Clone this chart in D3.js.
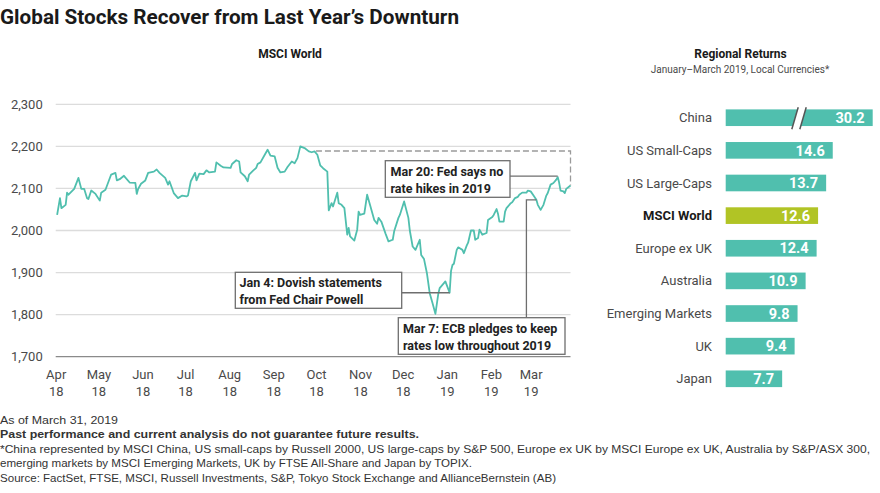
<!DOCTYPE html>
<html>
<head>
<meta charset="utf-8">
<script src="https://cdn.jsdelivr.net/npm/d3@7"></script>
<style>
  body { margin: 0; background: #fff; }
  svg { display: block; }
</style>
</head>
<body>
<svg id="chart" width="880" height="493"></svg>
<script>
// ---------- data ----------
const DATES = [
  "2018-04-02","2018-04-04","2018-04-05","2018-04-08","2018-04-09","2018-04-10","2018-04-14","2018-04-17",
  "2018-04-19","2018-04-21","2018-04-23","2018-04-24","2018-04-26","2018-04-29","2018-05-02","2018-05-03",
  "2018-05-06","2018-05-10","2018-05-13","2018-05-14","2018-05-16","2018-05-19","2018-05-23","2018-05-27",
  "2018-05-28","2018-05-29","2018-05-31","2018-06-03","2018-06-05","2018-06-09","2018-06-11","2018-06-13",
  "2018-06-17","2018-06-19","2018-06-20","2018-06-23","2018-06-26","2018-06-29","2018-07-02","2018-07-03",
  "2018-07-05","2018-07-08","2018-07-09","2018-07-11","2018-07-14","2018-07-16","2018-07-18","2018-07-22",
  "2018-07-23","2018-07-26","2018-07-28","2018-08-02","2018-08-03","2018-08-06","2018-08-08","2018-08-09",
  "2018-08-12","2018-08-14","2018-08-15","2018-08-18","2018-08-20","2018-08-21","2018-08-23","2018-08-26",
  "2018-08-28","2018-08-30","2018-09-02","2018-09-04","2018-09-06","2018-09-09","2018-09-11","2018-09-14",
  "2018-09-16","2018-09-18","2018-09-20","2018-09-23","2018-09-26","2018-09-28","2018-09-30","2018-10-02",
  "2018-10-04","2018-10-06","2018-10-09","2018-10-10","2018-10-12","2018-10-13","2018-10-16","2018-10-17",
  "2018-10-19","2018-10-21","2018-10-23","2018-10-24","2018-10-25","2018-10-28","2018-10-30","2018-10-31",
  "2018-11-01","2018-11-04","2018-11-06","2018-11-08","2018-11-11","2018-11-13","2018-11-14","2018-11-16",
  "2018-11-19","2018-11-21","2018-11-24","2018-11-25","2018-11-28","2018-11-29","2018-12-02","2018-12-05",
  "2018-12-06","2018-12-08","2018-12-10","2018-12-13","2018-12-14","2018-12-16","2018-12-18","2018-12-20",
  "2018-12-22","2018-12-24","2018-12-26","2018-12-27","2018-12-30","2018-12-31","2019-01-03","2019-01-04",
  "2019-01-05","2019-01-06","2019-01-08","2019-01-09","2019-01-12","2019-01-13","2019-01-15","2019-01-16",
  "2019-01-18","2019-01-20","2019-01-21","2019-01-23","2019-01-24","2019-01-26","2019-01-29","2019-01-30",
  "2019-02-02","2019-02-03","2019-02-05","2019-02-06","2019-02-07","2019-02-10","2019-02-11","2019-02-12",
  "2019-02-15","2019-02-16","2019-02-18","2019-02-20","2019-02-21","2019-02-23","2019-02-26","2019-02-27",
  "2019-03-01","2019-03-03","2019-03-05","2019-03-06","2019-03-08","2019-03-10","2019-03-12","2019-03-13",
  "2019-03-15","2019-03-17","2019-03-19","2019-03-20","2019-03-21","2019-03-22","2019-03-24","2019-03-25",
  "2019-03-26","2019-03-29"
];
const MSCI_VALUES = [
  2037,2077,2053,2061,2090,2085,2099,2125,
  2099,2099,2077,2075,2095,2087,2071,2090,
  2097,2133,2137,2119,2122,2130,2114,2113,
  2087,2099,2111,2119,2137,2140,2145,2137,
  2125,2109,2117,2089,2077,2083,2081,2083,
  2117,2137,2119,2135,2134,2143,2138,2140,
  2162,2154,2150,2149,2158,2167,2164,2138,
  2129,2117,2133,2143,2149,2158,2162,2180,
  2192,2178,2176,2149,2138,2140,2151,2164,
  2160,2172,2200,2196,2188,2186,2188,2180,
  2155,2148,2140,2048,2065,2057,2090,2065,
  2061,2053,1990,2006,1986,1976,2002,2045,
  2037,2040,2085,2061,2025,2016,2030,2021,
  1992,1974,1978,1998,2030,2037,2069,2030,
  2000,1962,1954,1978,1942,1932,1899,1851,
  1827,1802,1849,1863,1875,1879,1852,1904,
  1918,1921,1954,1960,1954,1946,1964,1971,
  2000,2000,1978,1982,2002,1990,1994,2025,
  2032,2037,2051,2040,2021,2021,2045,2053,
  2065,2067,2077,2080,2085,2090,2090,2095,
  2093,2083,2073,2061,2049,2061,2083,2089,
  2109,2113,2121,2127,2114,2095,2093,2089,
  2099,2107
];

const Y_TICKS = [1700, 1800, 1900, 2000, 2100, 2200, 2300];
const MONTH_TICKS = ["2018-04-01","2018-05-01","2018-06-01","2018-07-01","2018-08-01","2018-09-01",
                     "2018-10-01","2018-11-01","2018-12-01","2019-01-01","2019-02-01","2019-03-01"];
const MONTH_LABELS = ["Apr","May","Jun","Jul","Aug","Sep","Oct","Nov","Dec","Jan","Feb","Mar"];
const YEAR_LABELS = ["18","18","18","18","18","18","18","18","18","19","19","19"];

// level carried over from early October, dashed to the last close
const OCT_LEVEL = 2189;
const OCT_LEVEL_DATE = "2018-10-01";

const REGIONS = ["China","US Small-Caps","US Large-Caps","MSCI World","Europe ex UK",
                 "Australia","Emerging Markets","UK","Japan"];
const RETURNS = [30.2, 14.6, 13.7, 12.6, 12.4, 10.9, 9.8, 9.4, 7.7];
const BAR_CAP = 20.05;     // China bar is cut (axis break)
const BREAK_AT = 10;

const NOTES = [
  { lines: ["Mar 20: Fed says no", "rate hikes in 2019"], anchor: "2019-03-20" },
  { lines: ["Jan 4: Dovish statements", "from Fed Chair Powell"], anchor: "2019-01-03" },
  { lines: ["Mar 7: ECB pledges to keep", "rates low throughout 2019"], anchor: "2019-03-05", elbow: "2019-02-26" },
];

const FOOTER = [
  { text: "As of March 31, 2019", bold: false, w: 118 },
  { text: "Past performance and current analysis do not guarantee future results.", bold: true, w: 419 },
  { text: "*China represented by MSCI China, US small-caps by Russell 2000, US large-caps by S&P 500, Europe ex UK by MSCI Europe ex UK, Australia by S&P/ASX 300,", bold: false, w: 870 },
  { text: "emerging markets by MSCI Emerging Markets, UK by FTSE All-Share and Japan by TOPIX.", bold: false, w: 472 },
  { text: "Source: FactSet, FTSE, MSCI, Russell Investments, S&P, Tokyo Stock Exchange and AllianceBernstein (AB)", bold: false, w: 556 },
];

// ---------- styles ----------
const TEAL = "#50bfae";
const LIME = "#b1c425";
const TEXT = "#4a4a4a";
const FONT = "Roboto, 'Noto Sans', sans-serif";
const FOOT_FONT = "'Liberation Sans', Arial, sans-serif";

const svg = d3.select("#chart");
const parse = d3.timeParse("%Y-%m-%d");
const series = DATES.map((d, i) => ({ date: parse(d), value: MSCI_VALUES[i] }));
const valueAt = (s) => series.find((d) => +d.date === +parse(s)).value;

svg.append("rect").attr("width", 880).attr("height", 493).attr("fill", "#fff");

// ---------- title ----------
svg.append("text")
  .attr("x", 0).attr("y", 24)
  .attr("font-family", FONT).attr("font-weight", 700).attr("font-size", 20)
  .attr("fill", "#1a1a1a")
  .attr("textLength", 459).attr("lengthAdjust", "spacingAndGlyphs")
  .text("Global Stocks Recover from Last Year\u2019s Downturn");

// ---------- line chart ----------
const x = d3.scaleTime()
  .domain([parse("2018-04-01"), parse("2019-03-29")])
  .range([55.7, 570.5]);

const y = d3.scaleLinear()
  .domain([1700, 2300])
  .range([356.7, 104.3]);

svg.append("text")
  .attr("x", 290).attr("y", 58)
  .attr("text-anchor", "middle")
  .attr("font-family", FONT).attr("font-weight", 700).attr("font-size", 12)
  .attr("fill", "#1a1a1a")
  .text("MSCI World");

// gridlines
svg.append("g")
  .selectAll("line")
  .data(Y_TICKS)
  .join("line")
  .attr("x1", x.range()[0]).attr("x2", x.range()[1])
  .attr("y1", (d) => y(d)).attr("y2", (d) => y(d))
  .attr("stroke", (d) => (d === 1700 ? "#8a8a8a" : "#dcdcdc"))
  .attr("stroke-width", 1.3);

// y labels
svg.append("g")
  .attr("transform", `translate(${x.range()[0]},0)`)
  .call(d3.axisLeft(y).tickValues(Y_TICKS).tickSize(0).tickPadding(13).tickFormat(d3.format(",")))
  .call((g) => g.select(".domain").remove())
  .call((g) => g.selectAll("text")
    .attr("font-family", FONT).attr("font-size", 13).attr("fill", TEXT));

// x labels (two rows)
const monthDates = MONTH_TICKS.map(parse);
svg.append("g")
  .attr("transform", `translate(0,${y(1700)})`)
  .call(d3.axisBottom(x).tickValues(monthDates).tickSize(0).tickPadding(18).tickFormat(() => ""))
  .call((g) => g.select(".domain").remove())
  .call((g) => g.selectAll(".tick text").each(function (d, i) {
    const t = d3.select(this)
      .attr("font-family", FONT).attr("font-size", 13).attr("fill", TEXT);
    t.append("tspan").attr("x", 0).attr("dy", "0.35em").text(MONTH_LABELS[i]);
    t.append("tspan").attr("x", 0).attr("dy", 16.6).text(YEAR_LABELS[i]);
  }));

// dashed reference from October level to last value
const last = series[series.length - 1];
svg.append("path")
  .attr("d", d3.line()([
    [x(parse(OCT_LEVEL_DATE)), y(OCT_LEVEL)],
    [x(last.date), y(OCT_LEVEL)],
    [x(last.date), y(last.value)],
  ]))
  .attr("fill", "none")
  .attr("stroke", "#9a9a9a")
  .attr("stroke-width", 1.3)
  .attr("stroke-dasharray", "6,3");

// series
svg.append("path")
  .datum(series)
  .attr("d", d3.line().x((d) => x(d.date)).y((d) => y(d.value)))
  .attr("fill", "none")
  .attr("stroke", TEAL)
  .attr("stroke-width", 1.8)
  .attr("stroke-linejoin", "round");

// ---------- annotations ----------
const BOXES = [
  { x: 385.3, y: 160.7, w: 124.7, h: 36.6, tx: 390.5 },
  { x: 235.3, y: 272.3, w: 166.4, h: 36.0, tx: 239.5 },
  { x: 398.3, y: 317.7, w: 166.7, h: 36.6, tx: 403 },
];
const connG = svg.append("g").attr("fill", "none").attr("stroke", "#6e6e6e").attr("stroke-width", 1.3);

// Mar 20: right edge -> peak
{
  const n = NOTES[0], b = BOXES[0];
  const ax = x(parse(n.anchor)), ay = y(valueAt(n.anchor)) - 1;
  connG.append("path").attr("d", d3.line()([[b.x + b.w, ay], [ax, ay]]));
}
// Jan 4: right edge -> trough
{
  const n = NOTES[1], b = BOXES[1];
  const ax = x(parse(n.anchor)), ay = y(valueAt(n.anchor));
  connG.append("path").attr("d", d3.line()([[b.x + b.w, ay], [ax, ay]]));
}
// Mar 7: top edge -> up -> right
{
  const n = NOTES[2], b = BOXES[2];
  const ex = x(parse(n.elbow));
  const ax = x(parse(n.anchor)), ay = y(valueAt(n.anchor));
  connG.append("path").attr("d", d3.line()([[ex, b.y], [ex, ay], [ax, ay]]));
}

NOTES.forEach((n, i) => {
  const b = BOXES[i];
  const g = svg.append("g");
  g.append("rect")
    .attr("x", b.x).attr("y", b.y).attr("width", b.w).attr("height", b.h)
    .attr("fill", "#fff").attr("stroke", "#6e6e6e").attr("stroke-width", 1.3);
  n.lines.forEach((line, k) => {
    g.append("text")
      .attr("x", b.tx).attr("y", b.y + 15 + k * 17)
      .attr("font-family", FONT).attr("font-weight", 700).attr("font-size", 12.5)
      .attr("fill", "#222")
      .text(line);
  });
});

// ---------- bar chart ----------
svg.append("text")
  .attr("x", 740.5).attr("y", 58)
  .attr("text-anchor", "middle")
  .attr("font-family", FONT).attr("font-weight", 700).attr("font-size", 12)
  .attr("fill", "#1a1a1a")
  .text("Regional Returns");

svg.append("text")
  .attr("x", 740).attr("y", 73)
  .attr("text-anchor", "middle")
  .attr("font-family", FONT).attr("font-size", 10)
  .attr("fill", TEXT)
  .text("January\u2013March 2019, Local Currencies*");

const xb = d3.scaleLinear().domain([0, BAR_CAP]).range([725.7, 872.7]);
const yb = d3.scaleBand().domain(REGIONS).range([101.4, 395.1]).paddingInner(0.49).paddingOuter(0.245);

const bars = svg.append("g")
  .selectAll("g")
  .data(REGIONS.map((r, i) => ({ region: r, value: RETURNS[i] })))
  .join("g");

bars.append("rect")
  .attr("x", xb(0))
  .attr("y", (d) => yb(d.region))
  .attr("width", (d) => xb(Math.min(d.value, BAR_CAP)) - xb(0))
  .attr("height", yb.bandwidth())
  .attr("fill", (d) => (d.region === "MSCI World" ? LIME : TEAL));

bars.append("text")
  .attr("x", 712)
  .attr("y", (d) => yb(d.region) + yb.bandwidth() / 2)
  .attr("dy", "0.35em")
  .attr("text-anchor", "end")
  .attr("font-family", FONT)
  .attr("font-size", 13)
  .attr("font-weight", (d) => (d.region === "MSCI World" ? 700 : 400))
  .attr("fill", (d) => (d.region === "MSCI World" ? "#1a1a1a" : TEXT))
  .text((d) => d.region);

bars.append("text")
  .attr("x", (d) => xb(Math.min(d.value, BAR_CAP)) - 8)
  .attr("y", (d) => yb(d.region) + yb.bandwidth() / 2)
  .attr("dy", "0.36em")
  .attr("text-anchor", "end")
  .attr("font-family", FONT).attr("font-weight", 700).attr("font-size", 14.5)
  .attr("fill", "#fff")
  .text((d) => d3.format(".1f")(d.value));

// axis break on the China bar
{
  const cy = yb("China") + yb.bandwidth() / 2;
  const bx = xb(BREAK_AT);
  const top = cy - 10.5, bot = cy + 11.5, lean = 3.2, gap = 4;
  svg.append("path")
    .attr("d", `M${bx - gap - lean},${bot} L${bx - gap + lean},${top} L${bx + gap + lean},${top} L${bx + gap - lean},${bot} Z`)
    .attr("fill", "#fff");
  [bx - gap, bx + gap].forEach((cx) => {
    svg.append("line")
      .attr("x1", cx - lean).attr("y1", bot)
      .attr("x2", cx + lean).attr("y2", top)
      .attr("stroke", "#555").attr("stroke-width", 1.5);
  });
}

// ---------- footer ----------
svg.append("g")
  .selectAll("text")
  .data(FOOTER)
  .join("text")
  .attr("x", 0)
  .attr("y", (d, i) => 424 + i * 14.4)
  .attr("font-family", FOOT_FONT)
  .attr("font-size", 11.5)
  .attr("font-weight", (d) => (d.bold ? 700 : 400))
  .attr("fill", "#333")
  .attr("textLength", (d) => d.w)
  .attr("lengthAdjust", "spacingAndGlyphs")
  .text((d) => d.text);
</script>
</body>
</html>
